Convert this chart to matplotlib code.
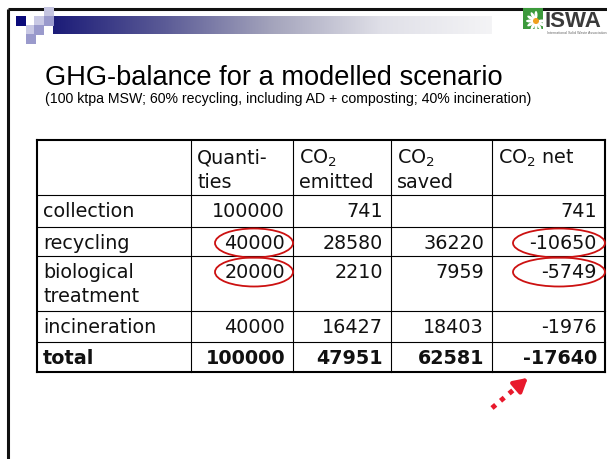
import numpy as np
import matplotlib.pyplot as plt
from matplotlib.patches import Rectangle, Ellipse
from matplotlib.colors import LinearSegmentedColormap

# table contents
title = "GHG-balance for a modelled scenario"
subtitle = "(100 ktpa MSW; 60% recycling, including AD + composting; 40% incineration)"

header = [["", ""], ["Quanti-", "ties"], [r"CO$_2$", "emitted"],
          [r"CO$_2$", "saved"], [r"CO$_2$ net", ""]]
row_labels = [["collection"], ["recycling"], ["biological", "treatment"],
              ["incineration"], ["total"]]
quantities = ["100000", "40000", "20000", "40000", "100000"]
co2_emitted = ["741", "28580", "2210", "16427", "47951"]
co2_saved = ["", "36220", "7959", "18403", "62581"]
co2_net = ["741", "-10650", "-5749", "-1976", "-17640"]
# cells circled in red: (row, column)
circled = [(1, 1), (2, 1), (1, 4), (2, 4)]

# layout in pixels
col_x = [37, 191, 293, 391, 492, 605]
row_y = [140, 195, 227, 256, 311, 342, 372]

fig = plt.figure(figsize=(6.07, 4.59), dpi=100)
ax = fig.add_axes([0, 0, 1, 1])
ax.set_xlim(0, 607)
ax.set_ylim(459, 0)
ax.axis("off")

# slide frame
ax.plot([7.5, 607], [8.5, 8.5], color="#111111", lw=2.2, solid_capstyle="butt")
ax.plot([7.5, 7.5], [8.5, 459], color="#111111", lw=2.2, solid_capstyle="butt")

# gradient banner
grad = np.linspace(0, 1, 256).reshape(1, -1)
band = LinearSegmentedColormap.from_list("band", ["#1c1c78", "#5a5a96", "#a4a4bc", "#e0e0e8", "#f4f4f6"])
ax.imshow(grad, cmap=band, extent=(53, 492, 34, 16), aspect="auto", zorder=1)

# small squares
squares = [(16, 16, "#0a0a7a"), (34, 16, "#c8c8e4"), (44, 7, "#c4c4e0"), (44, 16, "#9a9acc"),
           (26, 25, "#c8c8e4"), (34, 25, "#9a9acc"), (26, 34, "#9a9acc")]
for sx, sy, c in squares:
    ax.add_patch(Rectangle((sx, sy), 9.5, 9.5, color=c, lw=0, zorder=2))

# logo
ax.add_patch(Rectangle((523, 8), 20, 21, color="#3c9a3c", lw=0, zorder=2))
for ang in np.linspace(90, 360, 10):
    a = np.radians(ang)
    ax.add_patch(Ellipse((536 + 6 * np.cos(a), 21 - 6 * np.sin(a)), 8, 3, angle=-ang,
                         color="white", lw=0, zorder=3))
ax.add_patch(Ellipse((536, 21), 6, 6, color="#f0a020", lw=0, zorder=4))
ax.text(545, 27, "ISWA", fontsize=16, fontweight="bold", color="#3a3a3a",
        family="Liberation Sans", ha="left", va="baseline")
ax.text(547, 33.5, "International Solid Waste Association", fontsize=2.6, color="#666666",
        family="Liberation Sans", ha="left", va="center")

# titles
ax.text(45, 85, title, fontsize=19.6, family="Liberation Sans", ha="left", va="baseline")
ax.text(45, 103, subtitle, fontsize=10.2, family="Liberation Sans", ha="left", va="baseline")

# table grid
for i, y in enumerate(row_y):
    outer = i in (0, len(row_y) - 1)
    ax.plot([col_x[0], col_x[-1]], [y, y], color="black", lw=1.5 if outer else 0.8,
            solid_capstyle="projecting")
for j, x in enumerate(col_x):
    outer = j in (0, len(col_x) - 1)
    ax.plot([x, x], [row_y[0], row_y[-1]], color="black", lw=1.5 if outer else 0.8,
            solid_capstyle="projecting")

fs = 13.8
for j, lines in enumerate(header):
    for k, s in enumerate(lines):
        if s:
            ax.text(col_x[j] + 6, row_y[0] + 24 + 24 * k, s, fontsize=fs, ha="left",
                    va="baseline", color="#111111")

columns = [quantities, co2_emitted, co2_saved, co2_net]
for i, lab in enumerate(row_labels):
    top = row_y[i + 1]
    weight = "bold" if lab[0] == "total" else "normal"
    for k, s in enumerate(lab):
        ax.text(col_x[0] + 6, top + 22 + 24 * k, s, fontsize=fs, fontweight=weight,
                ha="left", va="baseline", color="#111111")
    for j, col in enumerate(columns):
        ax.text(col_x[j + 2] - 8, top + 22, col[i], fontsize=fs, fontweight=weight,
                ha="right", va="baseline", color="#111111")

# red circles
for (r, c) in circled:
    top = row_y[r + 1]
    cx = col_x[c + 1] - 39 if c == 1 else col_x[c + 1] - 46
    w = 78 if c == 1 else 92
    ax.add_patch(Ellipse((cx, top + 16), w, 29, fill=False, ec="#cc1111", lw=1.3, zorder=5))

# dotted arrow to the total
ax.plot([492, 518], [408, 386], color="#e8192c", lw=3.5, ls=(0, (1, 1.3)), solid_capstyle="butt")
ax.annotate("", xy=(530, 376), xytext=(516, 388),
            arrowprops=dict(arrowstyle="-|>,head_length=0.8,head_width=0.45", color="#e8192c", lw=3))

fig.savefig("out.png", dpi=100)
